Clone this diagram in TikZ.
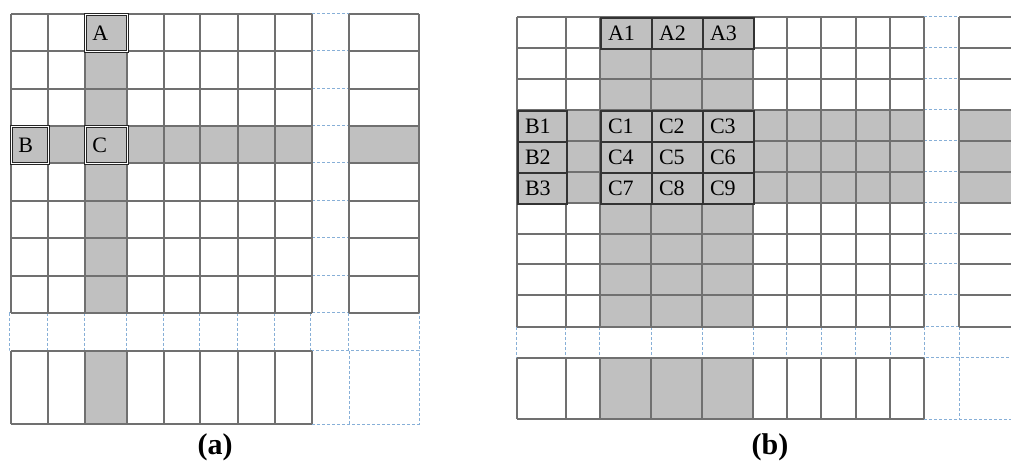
\documentclass[tikz,border=0pt]{standalone}
\usepackage{fontspec}
\setmainfont{Liberation Serif}
\usepackage{tikz}
\usetikzlibrary{positioning}
\definecolor{cellGray}{RGB}{192, 192, 192}
\definecolor{gridInk}{RGB}{112, 112, 112}
\definecolor{guideBlue}{RGB}{135, 175, 215}

\begin{document}
\begin{tikzpicture}[x=0.5pt, y=-0.5pt,
  gridline/.style={draw=gridInk, line width=0.6pt},
  guide/.style={draw=guideBlue, line width=0.5pt, dash pattern=on 1.5pt off 1pt},
  keya/.style={draw=black!85, line width=0.45pt, double, double distance=0.6pt,
               fill=cellGray, anchor=north west, inner xsep=3.5pt, inner ysep=0pt,
               minimum height=18.5pt, text width=#1, align=left,
               font=\fontsize{11}{12}\selectfont},
  keyb/.style={draw=black!80, line width=1pt, fill=cellGray,
               anchor=north west, inner xsep=3.5pt, inner ysep=0pt,
               minimum height=15.5pt, text width=#1, align=left,
               font=\fontsize{11}{12}\selectfont},
  caption/.style={font=\bfseries\fontsize{15}{17}\selectfont}
]
  \useasboundingbox (0,0) rectangle (1011,464);

  % Panel (a): shaded column and row
  \fill[cellGray] (85,14) rectangle (127,313);
  \fill[cellGray] (85,351) rectangle (127,424);
  \fill[cellGray] (11,126) rectangle (312,163);
  \fill[cellGray] (349,126) rectangle (419,163);

  % Panel (a): dashed row and column
  \draw[guide] (9,313) rectangle (419,351);
  \foreach \x in {47,84,126,163,199,237,274,310,348}
    \draw[guide] (\x,313) -- (\x,351);
  \draw[guide] (312,424) -- (419,424) -- (419,351);
  \draw[guide] (349,351) -- (349,424);
  \foreach \y in {14,51,89,126,163,201,238,276}
    \draw[guide] (312,\y) -- (349,\y);

  % Panel (a): grid
  \foreach \y in {14,51,89,126,163,201,238,276,313} {
    \draw[gridline] (11,\y) -- (312,\y);
    \draw[gridline] (349,\y) -- (419,\y);
  }
  \foreach \x in {11,48,85,127,164,200,238,275,312} {
    \draw[gridline] (\x,14) -- (\x,313);
    \draw[gridline] (\x,351) -- (\x,424);
  }
  \draw[gridline] (349,14) -- (349,313);
  \draw[gridline] (419,14) -- (419,313);
  \draw[gridline] (11,351) -- (312,351);
  \draw[gridline] (11,424) -- (312,424);

  % Panel (a): marked cells
  \node[keya=14pt] (cellA) at (85,14) {A};
  \node[keya=11.5pt] (cellB) at (11,126) {B};
  \node[keya=14pt] (cellC) at (85,126) {C};
  \node[caption] (capA) at (215,447) {(a)};

  % Panel (b): shaded columns and rows
  \fill[cellGray] (600,17) rectangle (753,327);
  \fill[cellGray] (600,358) rectangle (753,419);
  \fill[cellGray] (517,110) rectangle (924,203);
  \fill[cellGray] (959,110) rectangle (1011,203);

  % Panel (b): dashed row and column
  \draw[guide] (516,327) -- (1011,327);
  \draw[guide] (516,358) -- (1011,358);
  \foreach \x in {516,565,599,651,702,753,786,821,855,890,924,959}
    \draw[guide] (\x,327) -- (\x,358);
  \draw[guide] (924,419) -- (1011,419);
  \draw[guide] (959,358) -- (959,419);
  \foreach \y in {17,48,79,110,141,172,203,234,264,295}
    \draw[guide] (924,\y) -- (959,\y);

  % Panel (b): grid
  \foreach \y in {17,48,79,110,141,172,203,234,264,295,327} {
    \draw[gridline] (517,\y) -- (924,\y);
    \draw[gridline] (959,\y) -- (1011,\y);
  }
  \foreach \x in {517,566,600,651,702,753,787,821,856,890,924} {
    \draw[gridline] (\x,17) -- (\x,327);
    \draw[gridline] (\x,358) -- (\x,419);
  }
  \draw[gridline] (959,17) -- (959,327);
  \draw[gridline] (517,358) -- (924,358);
  \draw[gridline] (517,419) -- (924,419);

  % Panel (b): marked blocks
  \foreach \n/\x in {1/600,2/651,3/702}
    \node[keyb=18.5pt] (cellA\n) at (\x,17) {A\n};
  \foreach \n/\y in {1/110,2/141,3/172}
    \node[keyb=17.5pt] (cellB\n) at (517,\y) {B\n};
  \foreach \r/\y in {0/110,1/141,2/172}
    \foreach \c/\x in {1/600,2/651,3/702} {
      \pgfmathtruncatemacro{\k}{3*\r+\c}
      \node[keyb=18.5pt] (cellC\k) at (\x,\y) {C\k};
    }
  \node[caption] (capB) at (770,447) {(b)};

\end{tikzpicture}
\end{document}
